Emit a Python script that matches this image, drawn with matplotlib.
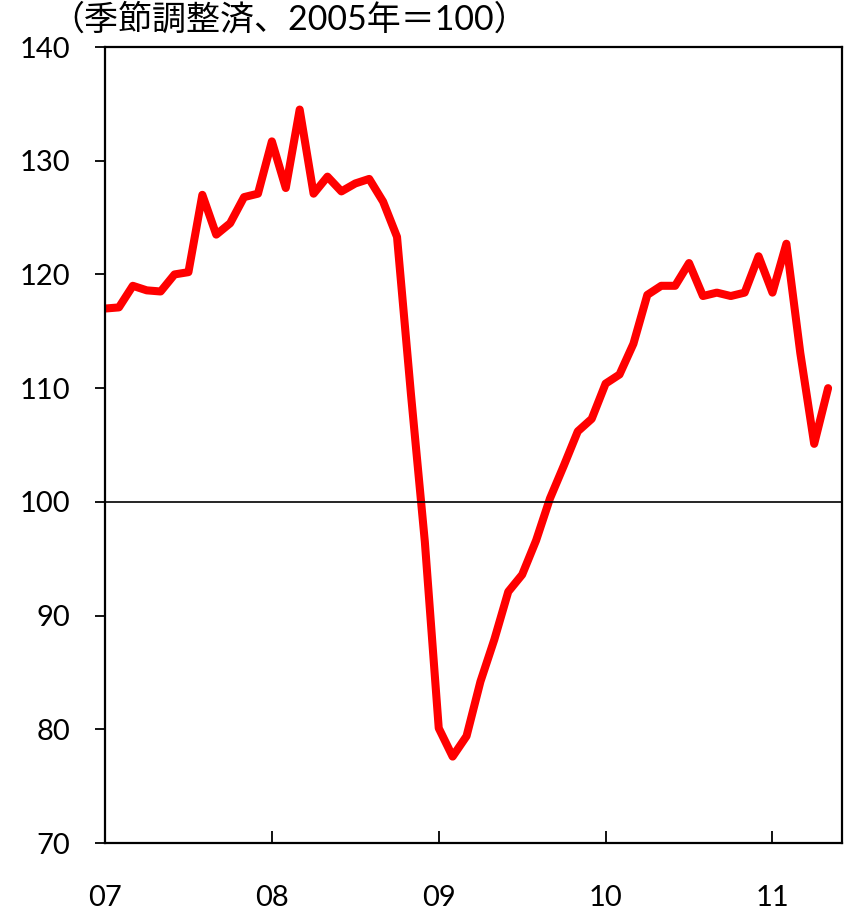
import matplotlib.pyplot as plt
import numpy as np

# 季節調整済指数（2005年＝100）、2007年1月〜2011年5月
values = [117.0, 117.1, 119.0, 118.6, 118.5, 120.0, 120.2, 127.0, 123.5, 124.5,
          126.8, 127.1, 131.7, 127.6, 134.5, 127.1, 128.6, 127.3, 128.0, 128.4,
          126.4, 123.3, 109.5, 96.5, 80.1, 77.6, 79.4, 84.2, 87.9, 92.1,
          93.6, 96.6, 100.3, 103.2, 106.2, 107.3, 110.4, 111.2, 113.9, 118.2,
          119.0, 119.0, 121.0, 118.1, 118.4, 118.1, 118.4, 121.6, 118.4, 122.7,
          113.1, 105.1, 110.0]
year_labels = ['07', '08', '09', '10', '11']
year_pos = [0, 12, 24, 36, 48]
y_ticks = [70, 80, 90, 100, 110, 120, 130, 140]
title = '（季節調整済、2005年＝100）'

fonts = ['Lato', 'Noto Sans CJK JP', 'DejaVu Sans']
plt.rcParams['font.family'] = fonts

months = np.arange(len(values))

fig = plt.figure(figsize=(8.47, 9.09), dpi=100)
ax = fig.add_axes([105 / 847, 1 - 843 / 909, 737 / 847, 796 / 909])

ax.plot(months, values, color='#ff0000', linewidth=5.8,
        solid_joinstyle='round', solid_capstyle='round')
ax.axhline(100, color='black', linewidth=1.2)

ax.set_xlim(0, 53)
ax.set_ylim(70, 140)
ax.set_yticks(y_ticks)
ax.set_xticks(year_pos)
ax.set_xticklabels(year_labels)

ax.tick_params(axis='y', direction='out', length=7, width=1.3, labelsize=21, pad=18)
ax.tick_params(axis='x', direction='in', length=9, width=1.3, labelsize=21, pad=30)
for s in ax.spines.values():
    s.set_linewidth(1.6)
    s.set_color('black')

fig.text(50 / 847, 1 - 19 / 909, title, fontsize=24.5, va='center', ha='left')

fig.savefig('out.png', dpi=100)
